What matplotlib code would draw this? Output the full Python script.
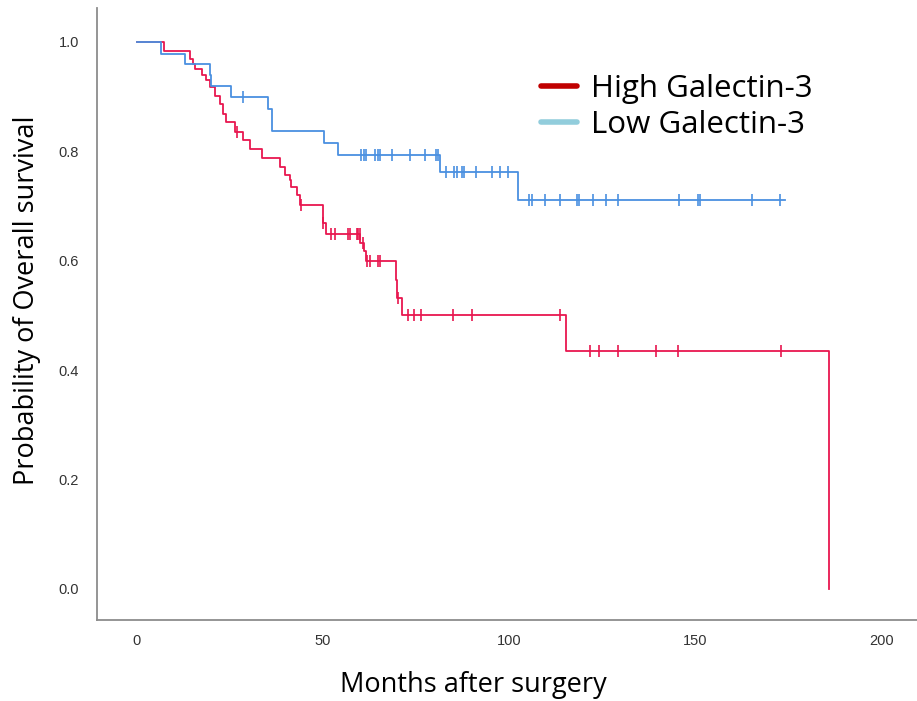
import numpy as np
import matplotlib
matplotlib.use("Agg")
import matplotlib.pyplot as plt
from matplotlib.lines import Line2D

# ---- data ----
high_times = [0, 7.3, 14.2, 14.95, 15.6, 17.4, 18.7, 19.6, 20.9, 22.3, 23.2, 24.0,
              26.3, 28.5, 30.3, 33.5, 38.4, 39.7, 41.1, 41.5, 42.9, 43.8,
              50.0, 50.7, 60.0, 61.0, 61.4, 69.5, 69.9, 71.1, 115.2, 186.0]
high_surv = [1.0, 0.984, 0.969, 0.960, 0.951, 0.939, 0.930, 0.917, 0.902, 0.887, 0.869, 0.854,
             0.836, 0.820, 0.805, 0.787, 0.772, 0.756, 0.747, 0.735, 0.720, 0.702,
             0.668, 0.649, 0.632, 0.618, 0.600, 0.565, 0.532, 0.500, 0.434, 0.0]
high_censor = [26.9, 44.2, 50.0, 52.0, 53.2, 56.7, 57.2, 59.0, 59.4, 59.9, 60.8,
               61.7, 62.5, 64.8, 65.3, 70.2, 72.8, 74.4, 76.4, 84.9, 90.1, 113.6,
               121.8, 124.0, 129.2, 139.3, 145.3, 172.9]

low_times = [0, 6.4, 12.9, 19.6, 20.0, 25.4, 35.2, 36.4, 50.2, 54.0, 81.3, 102.4]
low_surv = [1.0, 0.978, 0.959, 0.939, 0.919, 0.899, 0.878, 0.837, 0.816, 0.794, 0.763, 0.711]
low_end = 174.0
low_censor = [28.5, 60.3, 61.0, 61.6, 63.9, 64.8, 65.2, 68.4, 73.3, 77.3, 80.4, 81.0,
              83.0, 85.2, 86.1, 87.4, 87.8, 91.0, 95.5, 97.4, 99.7,
              105.3, 106.0, 109.5, 113.7, 118.2, 118.7, 122.5, 126.1, 129.2,
              145.5, 150.7, 151.3, 165.3, 172.6]

x_ticks = [0, 50, 100, 150, 200]
y_ticks = [0.0, 0.2, 0.4, 0.6, 0.8, 1.0]
series_labels = ["High Galectin-3", "Low Galectin-3"]
x_label = "Months after surgery"
y_label = "Probability of Overall survival"

RED = "#e8174f"
BLUE = "#4a90e0"
LEG_RED = "#c00000"
LEG_BLUE = "#92cddc"


def surv_at(times, surv, t):
    idx = np.searchsorted(np.asarray(times), t, side="right") - 1
    return np.asarray(surv)[idx]


fig = plt.figure(figsize=(9.17, 7.01), dpi=100)
ax = fig.add_axes([0.1058, 0.1155, 0.8942, 0.8731])

# high group
ax.step(high_times, high_surv, where="post", color=RED, lw=1.3)
ax.plot(high_censor, [surv_at(high_times, high_surv, t) for t in high_censor],
        ls="none", marker="|", ms=9, mew=1.2, color=RED)

# low group
ax.step(low_times + [low_end], low_surv + [low_surv[-1]], where="post", color=BLUE, lw=1.3)
ax.plot(low_censor, [surv_at(low_times, low_surv, t) for t in low_censor],
        ls="none", marker="|", ms=9, mew=1.2, color=BLUE)

ax.set_xlim(-10.7, 209.5)
ax.set_ylim(-0.057, 1.062)
ax.set_xticks(x_ticks)
ax.set_xticklabels([str(v) for v in x_ticks])
ax.set_yticks(y_ticks)
ax.set_yticklabels([f"{v:.1f}" for v in y_ticks])
ax.tick_params(length=0, labelsize=10.5, colors="#333333")
ax.tick_params(axis="y", pad=13)
ax.tick_params(axis="x", pad=10)
for lab in ax.get_xticklabels() + ax.get_yticklabels():
    lab.set_family("Liberation Sans")

for s in ["top", "right"]:
    ax.spines[s].set_visible(False)
for s in ["left", "bottom"]:
    ax.spines[s].set_color("#8c8c8c")
    ax.spines[s].set_linewidth(1.3)

ax.set_xlabel(x_label, fontsize=19.5, family="Open Sans")
ax.set_ylabel(y_label, fontsize=19.5, family="Open Sans")
ax.xaxis.set_label_coords(0.4585, -0.084)
ax.yaxis.set_label_coords(-0.068, 0.523)

handles = [Line2D([], [], color=LEG_RED, lw=4, solid_capstyle="round"),
           Line2D([], [], color=LEG_BLUE, lw=4, solid_capstyle="round")]
fig.legend(handles, series_labels, loc="upper left", bbox_to_anchor=(0.573, 0.917),
           frameon=False, prop={"family": "Open Sans", "size": 22.5},
           handlelength=1.15, handletextpad=0.45, labelspacing=0.2, borderpad=0)

fig.savefig("out.png", dpi=100)
